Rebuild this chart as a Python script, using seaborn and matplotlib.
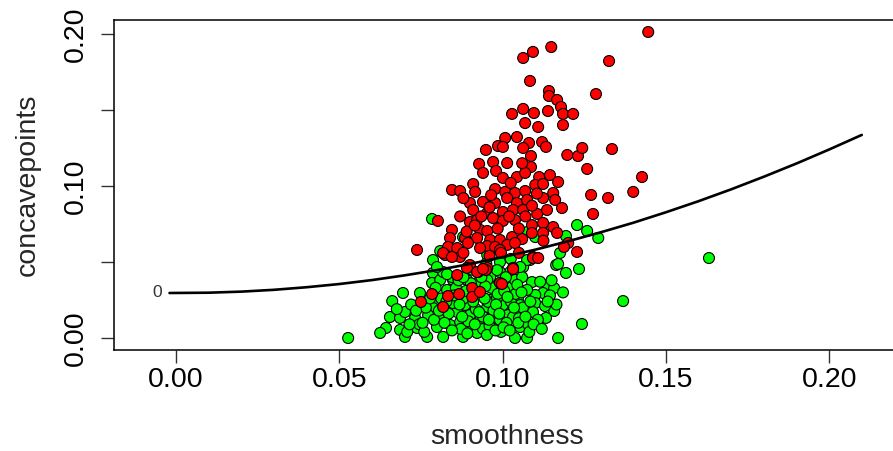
import numpy as np
import pandas as pd
import matplotlib
matplotlib.use("Agg")
import matplotlib.pyplot as plt
import seaborn as sns

# ---------------- data ----------------
red_smoothness = [
    0.1446, 0.1149, 0.1093, 0.1063, 0.1326, 0.1084, 0.1142, 0.1142, 0.1167, 0.1179,
    0.1185, 0.1216, 0.1286, 0.1139, 0.1029, 0.1063, 0.1096, 0.1069, 0.1109, 0.1185,
    0.1008, 0.1044, 0.1081, 0.1121, 0.1133, 0.0986, 0.1001, 0.0949, 0.1063, 0.1087,
    0.1198, 0.1231, 0.1244, 0.1335, 0.0928, 0.0971, 0.1014, 0.1087, 0.1259, 0.0940,
    0.0980, 0.1001, 0.1044, 0.1069, 0.1112, 0.1145, 0.1170, 0.1427, 0.0845, 0.0870,
    0.0910, 0.0916, 0.0977, 0.1008, 0.1038, 0.1069, 0.1100, 0.1124, 0.1155, 0.1400,
    0.1323, 0.1271, 0.0900, 0.0940, 0.0977, 0.1014, 0.1044, 0.1075, 0.1124, 0.1161,
    0.1182, 0.1277, 0.0910, 0.0953, 0.1001, 0.1032, 0.1063, 0.1106, 0.1136, 0.0802,
    0.0900, 0.0922, 0.0971, 0.1001, 0.1038, 0.1090, 0.1124, 0.1155, 0.0845, 0.0931,
    0.0953, 0.1090, 0.1124, 0.1167, 0.0839, 0.0885, 0.0922, 0.0962, 0.0992, 0.1029,
    0.1060, 0.1201, 0.0833, 0.0861, 0.0894, 0.0953, 0.0977, 0.1014, 0.1038, 0.0738,
    0.0824, 0.0870, 0.0931, 0.0992, 0.1228, 0.1093, 0.0900, 0.0953, 0.1032, 0.0925,
    0.0750, 0.0784, 0.0818, 0.0833, 0.0867, 0.0907, 0.0907, 0.0931, 0.0861, 0.0891,
    0.0922, 0.0949, 0.0992, 0.0818, 0.0845, 0.0998, 0.1032, 0.1093, 0.1188, 0.1109,
    0.0940,
    0.0890, 0.0915, 0.0935, 0.0960, 0.0985, 0.1020, 0.1050, 0.1070, 0.1090, 0.1105,
    0.0870, 0.0880, 0.0965, 0.1025, 0.1060, 0.0995, 0.1050, 0.0880, 0.0960, 0.1125,
]
red_concavepoints = [
    0.2013, 0.1914, 0.1882, 0.1842, 0.1822, 0.1691, 0.1625, 0.1592, 0.1566, 0.1520,
    0.1474, 0.1474, 0.1605, 0.1493, 0.1474, 0.1507, 0.1480, 0.1414, 0.1388, 0.1401,
    0.1316, 0.1322, 0.1283, 0.1289, 0.1257, 0.1263, 0.1257, 0.1237, 0.1250, 0.1197,
    0.1204, 0.1197, 0.1250, 0.1243, 0.1145, 0.1158, 0.1151, 0.1125, 0.1112, 0.1086,
    0.1099, 0.1053, 0.1059, 0.1086, 0.1059, 0.1072, 0.1026, 0.1059, 0.0974, 0.0967,
    0.1013, 0.0961, 0.0980, 0.0961, 0.0954, 0.0967, 0.1007, 0.1013, 0.0954, 0.0961,
    0.0921, 0.0941, 0.0888, 0.0895, 0.0888, 0.0921, 0.0888, 0.0908, 0.0921, 0.0908,
    0.0855, 0.0816, 0.0842, 0.0822, 0.0829, 0.0842, 0.0842, 0.0816, 0.0842, 0.0770,
    0.0763, 0.0776, 0.0789, 0.0770, 0.0776, 0.0743, 0.0757, 0.0730, 0.0711, 0.0711,
    0.0704, 0.0691, 0.0691, 0.0691, 0.0658, 0.0658, 0.0658, 0.0645, 0.0645, 0.0664,
    0.0651, 0.0625, 0.0599, 0.0592, 0.0625, 0.0605, 0.0599, 0.0612, 0.0625, 0.0579,
    0.0546, 0.0533, 0.0592, 0.0579, 0.0566, 0.0533, 0.0480, 0.0461, 0.0461, 0.0434,
    0.0237, 0.0289, 0.0204, 0.0276, 0.0289, 0.0329, 0.0270, 0.0303, 0.0414, 0.0461,
    0.0434, 0.0447, 0.0362, 0.0559, 0.0533, 0.0355, 0.0454, 0.0526, 0.0599, 0.0526,
    0.0454,
    0.0700, 0.0740, 0.0800, 0.0860, 0.0720, 0.0800, 0.0720, 0.0800, 0.0870, 0.0950,
    0.0800, 0.0920, 0.0940, 0.1020, 0.1150, 0.0560, 0.0560, 0.0560, 0.0540, 0.0640,
]

green_smoothness = [
    0.0527, 0.0643, 0.0625, 0.0662, 0.0695, 0.0655, 0.0686, 0.0701, 0.0747, 0.0686,
    0.0701, 0.0732, 0.0738, 0.0769, 0.0787, 0.0787, 0.0784, 0.0809, 0.0818, 0.0848,
    0.0799, 0.0787, 0.0772, 0.0809, 0.0799, 0.0818, 0.0839, 0.0861, 0.0870, 0.0848,
    0.0885, 0.0900, 0.0879, 0.0910, 0.0931, 0.0937, 0.0953, 0.0962, 0.0968, 0.0971,
    0.0922, 0.0977, 0.0962, 0.0891, 0.0922, 0.0799, 0.0830, 0.1632, 0.1369, 0.1243,
    0.1170, 0.1075, 0.1038, 0.1164, 0.1194, 0.1234, 0.1176, 0.1136, 0.1158, 0.1124,
    0.1158, 0.1133, 0.1100, 0.1090, 0.1054, 0.0940, 0.1017, 0.1032, 0.0992, 0.1001,
    0.1047, 0.1054, 0.1100, 0.1093, 0.1075, 0.1029, 0.0965, 0.0956, 0.0983, 0.1023,
    0.1063, 0.1084, 0.0992, 0.0992, 0.0953, 0.1038, 0.1060, 0.0953, 0.0977, 0.0784,
    0.1228, 0.1259, 0.1293, 0.1194, 0.1170, 0.1075, 0.1100, 0.0809, 0.0879, 0.1075,
    0.1054, 0.0983, 0.0845, 0.0894,
    0.0765, 0.0790, 0.0812, 0.0835, 0.0857, 0.0872, 0.0880, 0.0895, 0.0903, 0.0918,
    0.0925, 0.0940, 0.0947, 0.0960, 0.0972, 0.0985, 0.0995, 0.1005, 0.1012, 0.1025,
    0.1040, 0.1050, 0.1062, 0.1078, 0.1085, 0.1108, 0.1115, 0.1130, 0.1145, 0.1165,
    0.0745, 0.0720, 0.0708, 0.0676, 0.0830, 0.0865, 0.0905, 0.0935, 0.1010, 0.1045,
    0.0760, 0.0778, 0.0795, 0.0805, 0.0822, 0.0828, 0.0845, 0.0852, 0.0868, 0.0876,
    0.0888, 0.0892, 0.0910, 0.0915, 0.0928, 0.0945, 0.0952, 0.0958, 0.0978, 0.0980,
    0.0990, 0.1003, 0.1015, 0.1022, 0.1035, 0.1048, 0.1058, 0.1070, 0.1082, 0.1095,
    0.1120, 0.1138, 0.1150, 0.1185, 0.0735, 0.0755, 0.0715, 0.0880, 0.0950, 0.1025,
]
green_concavepoints = [
    0.0000, 0.0066, 0.0033, 0.0243, 0.0296, 0.0138, 0.0132, 0.0171, 0.0296, 0.0053,
    0.0007, 0.0132, 0.0066, 0.0007, 0.0513, 0.0428, 0.0362, 0.0382, 0.0434, 0.0382,
    0.0250, 0.0197, 0.0151, 0.0132, 0.0072, 0.0007, 0.0086, 0.0171, 0.0105, 0.0230,
    0.0217, 0.0151, 0.0007, 0.0066, 0.0118, 0.0053, 0.0204, 0.0250, 0.0132, 0.0086,
    0.0033, 0.0336, 0.0401, 0.0382, 0.0362, 0.0467, 0.0316, 0.0526, 0.0243, 0.0092,
    0.0000, 0.0000, 0.0000, 0.0480, 0.0428, 0.0454, 0.0559, 0.0349, 0.0329, 0.0296,
    0.0178, 0.0132, 0.0283, 0.0368, 0.0072, 0.0059, 0.0151, 0.0138, 0.0118, 0.0217,
    0.0263, 0.0217, 0.0230, 0.0171, 0.0316, 0.0336, 0.0330, 0.0237, 0.0263, 0.0434,
    0.0467, 0.0513, 0.0434, 0.0500, 0.0382, 0.0382, 0.0401, 0.0546, 0.0592, 0.0783,
    0.0743, 0.0704, 0.0658, 0.0671, 0.0487, 0.0697, 0.0664, 0.0572, 0.0664, 0.0513,
    0.0467, 0.0447, 0.0401, 0.0447,
    0.0200, 0.0120, 0.0260, 0.0160, 0.0330, 0.0060, 0.0260, 0.0110, 0.0360, 0.0190,
    0.0280, 0.0140, 0.0340, 0.0080, 0.0180, 0.0290, 0.0040, 0.0310, 0.0100, 0.0240,
    0.0290, 0.0130, 0.0200, 0.0090, 0.0240, 0.0120, 0.0370, 0.0210, 0.0280, 0.0220,
    0.0090, 0.0220, 0.0040, 0.0190, 0.0420, 0.0380, 0.0450, 0.0400, 0.0400, 0.0350,
    0.0040, 0.0260, 0.0330, 0.0180, 0.0100, 0.0240, 0.0050, 0.0280, 0.0220, 0.0140,
    0.0310, 0.0030, 0.0240, 0.0090, 0.0170, 0.0260, 0.0020, 0.0120, 0.0050, 0.0220,
    0.0160, 0.0070, 0.0270, 0.0050, 0.0200, 0.0100, 0.0300, 0.0140, 0.0040, 0.0090,
    0.0060, 0.0240, 0.0380, 0.0300, 0.0180, 0.0100, 0.0090, 0.0400, 0.0490, 0.0520,
]

curve_smoothness = [-0.002, 0.01, 0.02, 0.03, 0.04, 0.05, 0.06, 0.07, 0.08, 0.09, 0.10,
                    0.11, 0.12, 0.13, 0.14, 0.15, 0.16, 0.17, 0.18, 0.19, 0.20, 0.21]
curve_concavepoints = [0.0296, 0.0298, 0.0305, 0.0317, 0.0334, 0.0355, 0.0381, 0.0412,
                       0.0447, 0.0487, 0.0532, 0.0581, 0.0636, 0.0695, 0.0758, 0.0827,
                       0.0900, 0.0978, 0.1061, 0.1148, 0.1240, 0.1336]
curve_label = "0"
curve_label_pos = (-0.0058, 0.0296)

x_ticks = [0.00, 0.05, 0.10, 0.15, 0.20]
x_tick_labels = ["0.00", "0.05", "0.10", "0.15", "0.20"]
y_ticks = [0.00, 0.05, 0.10, 0.15, 0.20]
y_tick_labels = ["0.00", "", "0.10", "", "0.20"]

# ---------------- plotting ----------------
sns.set_style("white")
plt.rcParams["font.family"] = ["Liberation Sans", "DejaVu Sans"]

df = pd.DataFrame({
    "smoothness": green_smoothness + red_smoothness,
    "concavepoints": green_concavepoints + red_concavepoints,
    "diagnosis": ["B"] * len(green_smoothness) + ["M"] * len(red_smoothness),
})

W, H = 893, 451
fig = plt.figure(figsize=(W / 100, H / 100), dpi=100)
ax = fig.add_axes([114 / W, (H - 350) / H, (900 - 114) / W, 329.7 / H])

sns.scatterplot(data=df, x="smoothness", y="concavepoints", hue="diagnosis",
                palette={"B": "#00FF00", "M": "#FF0000"}, edgecolor="black",
                linewidth=0.8, s=62, legend=False, ax=ax, zorder=2)
sns.lineplot(x=curve_smoothness, y=curve_concavepoints, color="black", lw=1.9,
             estimator=None, ax=ax, zorder=3)
ax.text(curve_label_pos[0], curve_label_pos[1], curve_label, ha="center", va="center",
        fontsize=12.5, color="#333333")

ax.set_xlim(-0.019, 0.2217)
ax.set_ylim(-0.0079, 0.209)

ax.set_xticks(x_ticks)
ax.set_xticklabels(x_tick_labels)
ax.set_yticks(y_ticks)
ax.set_yticklabels(y_tick_labels)
plt.setp(ax.get_yticklabels(), rotation=90, va="center")

ax.tick_params(axis="both", direction="out", length=9.4, width=1.0, color="#333333",
               labelsize=20.5, labelcolor="black", bottom=True, left=True)
ax.tick_params(axis="x", pad=2.5)
ax.tick_params(axis="y", pad=8.5)

for sp in ax.spines.values():
    sp.set_visible(True)
    sp.set_color("black")
    sp.set_linewidth(1.1)

ax.set_xlabel("smoothness", fontsize=20.5)
ax.set_ylabel("concavepoints", fontsize=20.5)
ax.xaxis.label.set_va("center")
ax.yaxis.label.set_va("center")
ax.xaxis.set_label_coords(0.5, -(437 - 350) / 329.7)
ax.yaxis.set_label_coords(-(114 - 28) / 786, 0.5)

fig.savefig("out.png", dpi=100)
